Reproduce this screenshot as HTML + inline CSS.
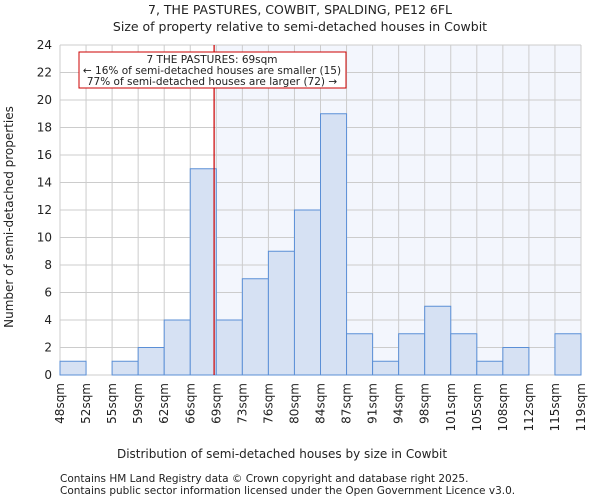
<!DOCTYPE html>
<html><head><meta charset="utf-8"><style>
body{margin:0;background:#fff;font-family:"DejaVu Sans","Liberation Sans",sans-serif;}
svg text{font-family:"DejaVu Sans","Liberation Sans",sans-serif;fill:#222;}
</style></head><body>
<svg id="c" width="600" height="500" xmlns="http://www.w3.org/2000/svg">
<text x="300" y="14" font-size="12.5" text-anchor="middle">7, THE PASTURES, COWBIT, SPALDING, PE12 6FL</text>
<text x="300" y="31" font-size="12.5" text-anchor="middle">Size of property relative to semi-detached houses in Cowbit</text>
<g id="plot"></g>
<text x="282" y="458" font-size="12" text-anchor="middle">Distribution of semi-detached houses by size in Cowbit</text>
<text transform="translate(13,217) rotate(-90)" font-size="12" text-anchor="middle">Number of semi-detached properties</text>
<text x="60" y="482" font-size="10.5">Contains HM Land Registry data © Crown copyright and database right 2025.</text>
<text x="60" y="494" font-size="10.5">Contains public sector information licensed under the Open Government Licence v3.0.</text>
</svg>
<script>
const binLabels=["48sqm","52sqm","55sqm","59sqm","62sqm","66sqm","69sqm","73sqm","76sqm","80sqm","84sqm","87sqm","91sqm","94sqm","98sqm","101sqm","105sqm","108sqm","112sqm","115sqm","119sqm"];
const counts=[1,0,1,2,4,15,4,7,9,12,19,3,1,3,5,3,1,2,0,3];
const yTicks=[0,2,4,6,8,10,12,14,16,18,20,22,24];
const subjectSize=69;
const xMin=48,xMax=119;
const L=60,R=581,T=45,B=375,yMax=24;
const ns="http://www.w3.org/2000/svg";
const g=document.getElementById('plot');
const bw=(R-L)/counts.length;
const xi=i=>L+i*bw;
const xv=v=>L+(v-xMin)/(xMax-xMin)*(R-L);
const y=v=>B-v/yMax*(B-T);
function mk(t,a){const e=document.createElementNS(ns,t);for(const k in a)e.setAttribute(k,a[k]);g.appendChild(e);return e;}
const sx=xv(subjectSize);
let e=mk('rect',{x:sx,y:T,width:R-sx,height:B-T,fill:'#f3f6fd'});


yTicks.forEach(t=>{
 let l=mk('line',{x1:L,x2:R,y1:y(t),y2:y(t),stroke:'#ccc','stroke-width':1});
 
 
 let tx=mk('text',{x:L-8,y:y(t)+4,'font-size':12,'text-anchor':'end'});tx.textContent=t;
 
 
});
binLabels.forEach((lb,i)=>{
 let l=mk('line',{x1:xi(i),x2:xi(i),y1:T,y2:B,stroke:'#ccc','stroke-width':1});
 
 
 let tx=mk('text',{transform:`translate(${xi(i)+4},${B+8}) rotate(-90)`,'font-size':12,'text-anchor':'end'});tx.textContent=lb;
 
 
});
counts.forEach((c,i)=>{
 if(c<=0)return;
 let r=mk('rect',{x:xi(i),y:y(c),width:bw,height:B-y(c),fill:'#d6e1f3',stroke:'#5b8fd6','stroke-width':1});
 
 
});
e=mk('line',{x1:sx,x2:sx,y1:T,y2:B,stroke:'#cc0000','stroke-width':1.2});


e=mk('rect',{x:79,y:52,width:267,height:36,fill:'#fff',stroke:'#cc0000','stroke-width':1});


[["7 THE PASTURES: 69sqm",63],["← 16% of semi-detached houses are smaller (15)",74],["77% of semi-detached houses are larger (72) →",85]].forEach(([s,yy])=>{
 let t=mk('text',{x:212,y:yy,'font-size':10.5,'text-anchor':'middle'});t.textContent=s;
 
 
});
</script>
</body></html>
